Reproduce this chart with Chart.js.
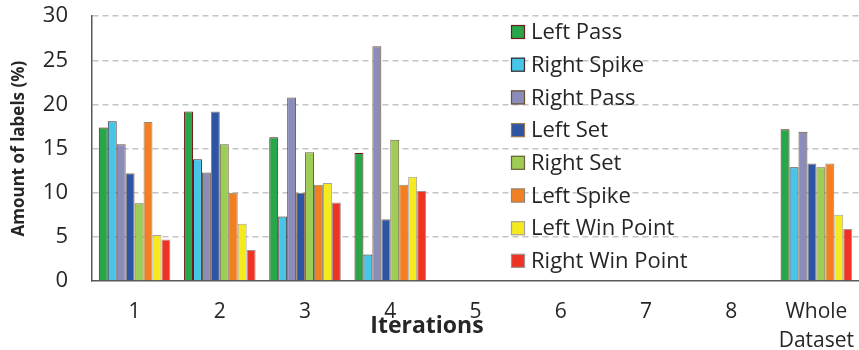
<!DOCTYPE html>
<html>
<head>
<meta charset="utf-8">
<script src="https://cdn.jsdelivr.net/npm/chart.js@4/dist/chart.umd.min.js"></script>
<style>
  html, body { margin: 0; padding: 0; background: #ffffff; }
  #wrap { width: 859px; height: 350px; }
</style>
</head>
<body>
<div id="wrap"><canvas id="c" width="859" height="350"></canvas></div>
<script>
// Share of each label class per iteration (%)
const categories = ['1', '2', '3', '4', '5', '6', '7', '8', ['Whole', 'Dataset']];
const leftPass      = [17.4, 19.2, 16.3, 14.5, null, null, null, null, 17.2];
const rightSpike    = [18.1, 13.8,  7.3,  3.0, null, null, null, null, 12.9];
const rightPass     = [15.5, 12.3, 20.8, 26.6, null, null, null, null, 16.9];
const leftSet       = [12.2, 19.2, 10.0,  7.0, null, null, null, null, 13.3];
const rightSet      = [ 8.8, 15.5, 14.6, 16.0, null, null, null, null, 12.9];
const leftSpike     = [18.0, 10.0, 10.9, 10.9, null, null, null, null, 13.3];
const leftWinPoint  = [ 5.2,  6.5, 11.1, 11.8, null, null, null, null,  7.5];
const rightWinPoint = [ 4.7,  3.5,  8.9, 10.2, null, null, null, null,  5.9];
const yTicks = [0, 5, 10, 15, 20, 25, 30];

const FONT = '"Open Sans", "Liberation Sans", sans-serif';
const TEXT = '#262626';

function series(label, data, fill, edge) {
  return {
    label, data,
    backgroundColor: fill,
    borderColor: edge,
    borderWidth: 1,
    categoryPercentage: 0.84,
    barPercentage: 1.0
  };
}

// Legend box drawn inside the plot, one entry per dataset
const innerLegend = {
  id: 'innerLegend',
  afterDraw(chart) {
    const ctx = chart.ctx;
    const x0 = 511, y0 = 32, step = 32.7, box = 14;
    ctx.save();
    ctx.font = '22px ' + FONT;
    ctx.textBaseline = 'middle';
    ctx.textAlign = 'left';
    chart.data.datasets.forEach((ds, i) => {
      const y = y0 + i * step;
      ctx.fillStyle = ds.backgroundColor;
      ctx.fillRect(x0, y - box / 2, box, box);
      ctx.strokeStyle = ds.borderColor;
      ctx.lineWidth = 1.2;
      ctx.strokeRect(x0 + 0.5, y - box / 2 + 0.5, box - 1, box - 1);
      ctx.fillStyle = TEXT;
      ctx.fillText(ds.label, 531, y + 1);
    });
    ctx.restore();
  }
};

// Horizontal axis caption
const xCaption = {
  id: 'xCaption',
  afterDraw(chart) {
    const ctx = chart.ctx;
    ctx.save();
    ctx.font = 'bold 23px ' + FONT;
    ctx.fillStyle = TEXT;
    ctx.textAlign = 'center';
    ctx.textBaseline = 'middle';
    ctx.fillText('Iterations', 427, 326);
    ctx.restore();
  }
};

new Chart(document.getElementById('c'), {
  type: 'bar',
  data: {
    labels: categories,
    datasets: [
      series('Left Pass',       leftPass,      '#27a64a', '#6e1a1a'),
      series('Right Spike',     rightSpike,    '#47c5e8', '#3a2a2a'),
      series('Right Pass',      rightPass,     '#8a8dba', '#6b5030'),
      series('Left Set',        leftSet,       '#2e55a3', '#9a7a55'),
      series('Right Set',       rightSet,      '#9dcd55', '#6e6040'),
      series('Left Spike',      leftSpike,     '#f27f22', '#8f8a78'),
      series('Left Win Point',  leftWinPoint,  '#f4ea1e', '#a8a0a0'),
      series('Right Win Point', rightWinPoint, '#ee3324', '#a89090')
    ]
  },
  options: {
    responsive: false,
    animation: false,
    layout: { padding: { top: 0, right: 0, bottom: 0, left: 0 } },
    datasets: { bar: { categoryPercentage: 0.84, barPercentage: 1.0 } },
    plugins: {
      legend: { display: false },
      tooltip: { enabled: false }
    },
    scales: {
      x: {
        offset: true,
        grid: {
          display: true,
          drawOnChartArea: false,
          drawTicks: true,
          tickLength: 14,
          tickColor: 'rgba(0,0,0,0)'
        },
        border: { display: true, color: '#595959', width: 1.5 },
        ticks: {
          color: TEXT,
          font: { family: FONT, size: 21, lineHeight: 1.35 },
          padding: 3,
          maxRotation: 0,
          autoSkip: false
        },
        afterFit(scale) { scale.height = 69; }
      },
      y: {
        min: 0,
        max: 30,
        afterBuildTicks(scale) { scale.ticks = yTicks.map(v => ({ value: v })); },
        grid: {
          drawTicks: true,
          tickLength: 21,
          tickColor: 'rgba(0,0,0,0)',
          color: ctx => (ctx.tick && ctx.tick.value === 0) ? 'rgba(0,0,0,0)' : '#c4c4c4',
          lineWidth: 1.6
        },
        border: { display: true, color: '#595959', width: 1.5, dash: [6, 4] },
        ticks: {
          color: TEXT,
          font: { family: FONT, size: 22 },
          padding: 3
        },
        title: {
          display: true,
          text: 'Amount of labels (%)',
          color: TEXT,
          font: { family: FONT, size: 17, weight: 'bold' },
          padding: { top: 9, bottom: 0 }
        },
        afterFit(scale) { scale.width = 92; }
      }
    }
  },
  plugins: [innerLegend, xCaption]
});
</script>
</body>
</html>
